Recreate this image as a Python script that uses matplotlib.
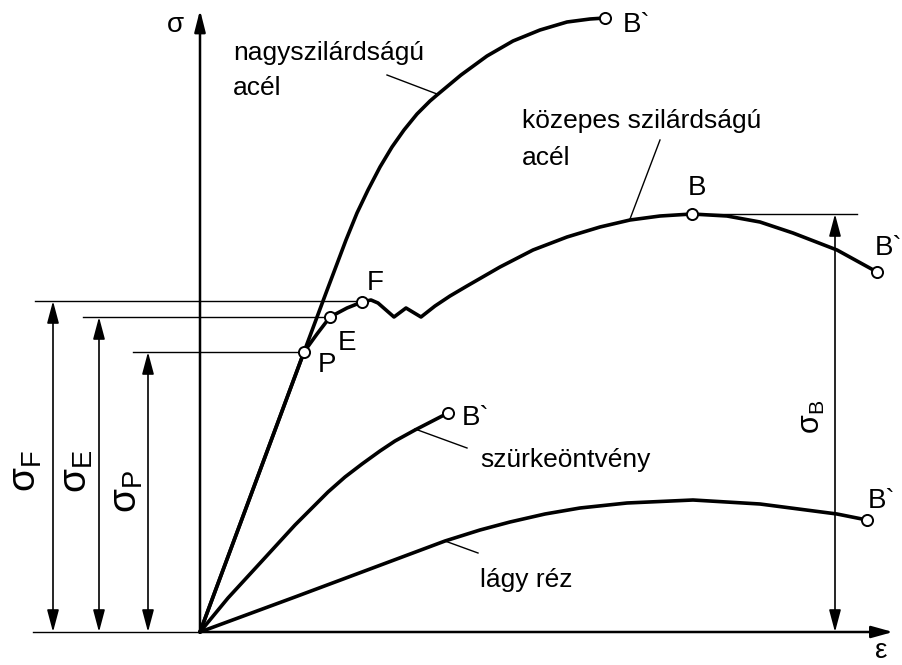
import matplotlib
matplotlib.use("Agg")
import matplotlib.pyplot as plt

plt.rcParams['font.family'] = ['Liberation Sans', 'DejaVu Sans']
plt.rcParams['mathtext.default'] = 'regular'

# nagyszilárdságú acél (egyenes szakasz a P pontig, utána ív a B` szakadásig)
nagy_eps = [0, 104, 126, 146, 157, 168, 180, 192, 204, 217, 230, 237,
            261, 287, 313, 340, 367, 390, 405]
nagy_sig = [0, 280, 339, 392, 419, 442, 465, 485, 502, 518, 531, 537,
            557, 576, 591, 602, 610, 613, 614]

# közepes szilárdságú acél: P, E, F, folyási hullám, B maximum, B` szakadás
koz_eps = [0, 104, 117, 130, 147, 162, 171, 178, 194, 206, 221, 235, 250,
           267, 300, 333, 367, 400, 430, 460, 492, 527, 560, 593, 637, 677]
koz_sig = [0, 280, 298, 315, 324, 330, 332, 329, 315, 324, 315, 326, 336,
           346, 365, 382, 395, 405, 412, 416, 418, 416, 410, 399, 382, 360]

# szürkeöntvény
szurke_eps = [0, 28, 62, 95, 128, 145, 162, 180, 195, 215, 248]
szurke_sig = [0, 34, 71, 107, 140, 155, 168, 181, 191, 202, 219]

# lágy réz
rez_eps = [0, 95, 162, 245, 280, 310, 345, 380, 427, 493, 560, 637, 667]
rez_sig = [0, 35, 60, 91, 102, 110, 118, 124, 129, 132, 128, 118, 112]

# jellemző pontok
pont_eps = {'P': 104, 'E': 130, 'F': 162, 'B': 492}
pont_sig = {'P': 280, 'E': 315, 'F': 330, 'B': 418}
szakadas = [(405, 614), (677, 360), (248, 219), (667, 112)]

# feszültségszintek a méretvonalakhoz
sigma_F = 331
sigma_E = 315
sigma_P = 280
sigma_B = 418

fig = plt.figure(figsize=(9.02, 6.65), dpi=100)
ax = fig.add_axes([0, 0, 1, 1])
ax.set_xlim(-200, 702)
ax.set_ylim(-33, 632)
ax.axis('off')

vonal = dict(color='k', lw=2.6, solid_joinstyle='round', solid_capstyle='round')
vekony = dict(color='k', lw=1.0)

# tengelyek nyíllal
ax.annotate('', xy=(0, 622), xytext=(0, 0),
            arrowprops=dict(arrowstyle='-|>,head_length=1.3,head_width=0.33',
                            mutation_scale=10, lw=1.8, color='k',
                            shrinkA=0, shrinkB=0))
ax.annotate('', xy=(693, 0), xytext=(0, 0),
            arrowprops=dict(arrowstyle='-|>,head_length=1.3,head_width=0.36',
                            mutation_scale=10, lw=1.8, color='k',
                            shrinkA=0, shrinkB=0))
ax.plot([-167, 0], [0, 0], **vekony)
ax.text(-33, 600, 'σ', fontsize=20, ha='left', va='baseline')
ax.text(675, -26, 'ε', fontsize=20, ha='left', va='baseline')

# görbék
ax.plot(rez_eps, rez_sig, **vonal)
ax.plot(szurke_eps, szurke_sig, **vonal)
ax.plot(koz_eps, koz_sig, **vonal)
ax.plot(nagy_eps, nagy_sig, **vonal)

# vízszintes segédvonalak
ax.plot([-165, pont_eps['F']], [sigma_F, sigma_F], **vekony)
ax.plot([-117, pont_eps['E']], [sigma_E, sigma_E], **vekony)
ax.plot([-67, pont_eps['P']], [sigma_P, sigma_P], **vekony)
ax.plot([pont_eps['B'], 657], [sigma_B, sigma_B], **vekony)

# méretnyilak
meret = dict(arrowstyle='<|-|>,head_length=1.35,head_width=0.36',
             mutation_scale=10, lw=1.2, color='k', shrinkA=0, shrinkB=0)
for x, s in [(-147, sigma_F), (-101, sigma_E), (-52, sigma_P), (635, sigma_B)]:
    ax.annotate('', xy=(x, s), xytext=(x, 0), arrowprops=meret)

ax.text(-174, 161, r'$\sigma_F$', fontsize=28, rotation=90, ha='center', va='center')
ax.text(-123, 161, r'$\sigma_E$', fontsize=28, rotation=90, ha='center', va='center')
ax.text(-73, 141, r'$\sigma_P$', fontsize=28, rotation=90, ha='center', va='center')
ax.text(612, 215, r'$\sigma_B$', fontsize=22, rotation=90, ha='center', va='center')

# jelölt pontok
kor = dict(marker='o', ms=8, mfc='white', mec='k', mew=1.4, ls='none', zorder=5)
ax.plot(list(pont_eps.values()), list(pont_sig.values()), **kor)
ax.plot([p[0] for p in szakadas], [p[1] for p in szakadas], **kor)

cimke = dict(fontsize=20, ha='left', va='baseline')
ax.text(118, 260, 'P', **cimke)
ax.text(138, 282, 'E', **cimke)
ax.text(167, 342, 'F', **cimke)
ax.text(488, 437, 'B', **cimke)
ax.text(423, 600, 'B`', **cimke)
ax.text(675, 377, 'B`', **cimke)
ax.text(262, 207, 'B`', **cimke)
ax.text(668, 124, 'B`', **cimke)

# anyagnevek mutatóvonallal
szoveg = dict(fontsize=19, ha='left', va='baseline')
ax.text(33, 572, 'nagyszilárdságú', **szoveg)
ax.text(33, 537, 'acél', **szoveg)
ax.plot([187, 237], [557, 538], **vekony)

ax.text(322, 504, 'közepes szilárdságú', **szoveg)
ax.text(322, 467, 'acél', **szoveg)
ax.plot([460, 430], [492, 413], **vekony)

ax.text(280, 165, 'szürkeöntvény', **szoveg)
ax.plot([215, 267], [203, 184], **vekony)

ax.text(280, 45, 'lágy réz', **szoveg)
ax.plot([245, 278], [91, 79], **vekony)

plt.savefig('out.png', dpi=100)
